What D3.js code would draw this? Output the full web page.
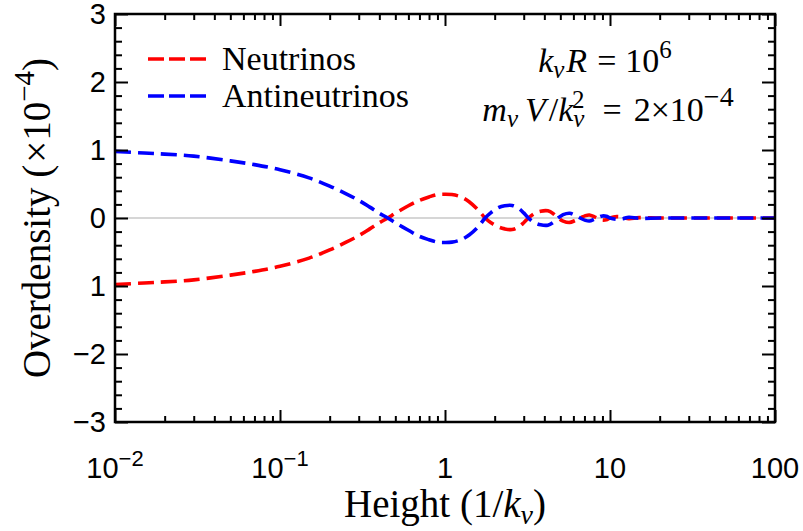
<!DOCTYPE html>
<html>
<head>
<meta charset="utf-8">
<script src="https://cdn.jsdelivr.net/npm/d3@7"></script>
<style>
  html, body { margin: 0; padding: 0; background: #fff; }
  svg { display: block; }
</style>
</head>
<body>
<svg id="chart" width="803" height="531"></svg>
<script>
// ---- data ----
const heights = [0.01, 0.015, 0.02, 0.03, 0.05, 0.07, 0.1, 0.15, 0.2, 0.25, 0.3, 0.35, 0.4, 0.45, 0.5, 0.6, 0.7, 0.8, 0.9, 1.0, 1.1, 1.25, 1.4, 1.6, 1.75, 1.9, 2.1, 2.3, 2.55, 2.8, 3.0, 3.2, 3.5, 3.8, 4.2, 4.55, 4.85, 5.2, 5.7, 6.1, 6.6, 7.1, 7.5, 8.0, 8.5, 9.0, 9.5, 10, 11, 12, 13, 15, 20, 30, 50, 100];
const neutrinos = [-0.98, -0.955, -0.94, -0.91, -0.84, -0.785, -0.71, -0.59, -0.47, -0.36, -0.26, -0.16, -0.07, 0.0, 0.07, 0.18, 0.26, 0.31, 0.345, 0.35, 0.345, 0.31, 0.24, 0.11, 0.0, -0.07, -0.13, -0.16, -0.17, -0.13, -0.07, 0.0, 0.07, 0.10, 0.105, 0.06, 0.0, -0.045, -0.065, -0.04, 0.0, 0.035, 0.045, 0.02, -0.01, -0.03, -0.025, 0.0, 0.02, 0.01, -0.01, 0.005, 0.0, 0.0, 0.0, 0.0];
const antineutrinos = [0.98, 0.955, 0.94, 0.91, 0.84, 0.785, 0.71, 0.59, 0.47, 0.36, 0.26, 0.16, 0.07, 0.0, -0.07, -0.18, -0.27, -0.32, -0.355, -0.36, -0.355, -0.32, -0.25, -0.12, 0.0, 0.08, 0.15, 0.18, 0.185, 0.14, 0.075, 0.0, -0.07, -0.10, -0.105, -0.06, 0.0, 0.05, 0.07, 0.045, 0.0, -0.035, -0.045, -0.02, 0.01, 0.03, 0.025, 0.0, -0.02, -0.01, 0.01, -0.005, 0.0, 0.0, 0.0, 0.0];
const xMajorTicks = [0.01, 0.1, 1, 10, 100];
const xTickLabels = [["10", "\u22122"], ["10", "\u22121"], ["1", ""], ["10", ""], ["100", ""]];
const yMajorTicks = [-3, -2, -1, 0, 1, 2, 3];
const yTickLabels = ["\u22123", "\u22122", "1", "0", "1", "2", "3"];
const seriesNames = ["Neutrinos", "Antineutrinos"];
const seriesColors = ["#ff0000", "#0000ff"];

// ---- layout ----
const W = 803, H = 531;
const L = 115, R = 775, T = 14, B = 422;
const svg = d3.select("#chart");
const x = d3.scaleLog().domain([0.01, 100]).range([L, R]);
const y = d3.scaleLinear().domain([-3, 3]).range([B, T]);

const sans = "'Liberation Sans', Arial, Helvetica, sans-serif";
const serif = "'Liberation Serif', 'Times New Roman', Times, serif";

// minor ticks
const xMinor = [];
for (let d = -2; d < 2; d++) for (let m = 2; m <= 9; m++) xMinor.push(m * Math.pow(10, d));
const yMinor = d3.range(-3, 3.0001, 0.2).map(v => +v.toFixed(2)).filter(v => Math.abs(v - Math.round(v)) > 1e-6);

// zero line
svg.append("line")
  .attr("x1", L).attr("x2", R).attr("y1", y(0)).attr("y2", y(0))
  .attr("stroke", "#d6d6d6").attr("stroke-width", 2);

// series
const line = d3.line()
  .x((d, i) => x(heights[i]))
  .y(d => y(d))
  .curve(d3.curveCatmullRom.alpha(0.5));

const plot = svg.append("g");
[neutrinos, antineutrinos].forEach((vals, k) => {
  plot.append("path")
    .attr("d", line(vals))
    .attr("fill", "none")
    .attr("stroke", seriesColors[k])
    .attr("stroke-width", 3.6)
    .attr("stroke-dasharray", "16,7");
});

// axes (ticks inward on all four sides)
function addAxis(axisFn, scale, transform, vals, size) {
  svg.append("g")
    .attr("transform", transform)
    .call(axisFn(scale).tickValues(vals).tickSize(size).tickFormat(""))
    .call(g => g.select(".domain").remove())
    .call(g => g.selectAll(".tick line").attr("stroke", "#000").attr("stroke-width", 2));
}
addAxis(d3.axisBottom, x, `translate(0,${B})`, xMajorTicks, -12);
addAxis(d3.axisBottom, x, `translate(0,${B})`, xMinor, -6);
addAxis(d3.axisTop, x, `translate(0,${T})`, xMajorTicks, -12);
addAxis(d3.axisTop, x, `translate(0,${T})`, xMinor, -6);
addAxis(d3.axisLeft, y, `translate(${L},0)`, yMajorTicks, -13);
addAxis(d3.axisLeft, y, `translate(${L},0)`, yMinor, -7);
addAxis(d3.axisRight, y, `translate(${R},0)`, yMajorTicks, -13);
addAxis(d3.axisRight, y, `translate(${R},0)`, yMinor, -7);

// frame
svg.append("rect")
  .attr("x", L).attr("y", T).attr("width", R - L).attr("height", B - T)
  .attr("fill", "none").attr("stroke", "#000").attr("stroke-width", 2.5);

// y tick labels
svg.append("g").selectAll("text").data(yMajorTicks).join("text")
  .attr("x", L - 9).attr("y", d => y(d)).attr("dy", "0.36em")
  .attr("text-anchor", "end")
  .attr("font-family", sans).attr("font-size", 29)
  .text((d, i) => yTickLabels[i]);

// x tick labels
const xl = svg.append("g").selectAll("text").data(xMajorTicks).join("text")
  .attr("x", d => x(d)).attr("y", 478)
  .attr("text-anchor", "middle")
  .attr("font-family", sans).attr("font-size", 29);
xl.each(function(d, i) {
  const t = d3.select(this);
  t.append("tspan").text(xTickLabels[i][0]);
  if (xTickLabels[i][1]) {
    t.append("tspan").attr("font-size", 22).attr("dy", -12).text(xTickLabels[i][1]);
  }
});

// axis titles
const xt = svg.append("text")
  .attr("x", (L + R) / 2).attr("y", 517)
  .attr("text-anchor", "middle")
  .attr("font-family", serif).attr("font-size", 39);
xt.append("tspan").text("Height (1/");
xt.append("tspan").attr("font-style", "italic").text("k");
xt.append("tspan").attr("font-style", "italic").attr("font-size", 28).attr("dy", 7).text("\u03BD");
xt.append("tspan").attr("dy", -7).text(")");

const yt = svg.append("text")
  .attr("transform", `translate(50,${(T + B) / 2}) rotate(-90)`)
  .attr("text-anchor", "middle")
  .attr("font-family", serif).attr("font-size", 39);
yt.append("tspan").text("Overdensity (");
yt.append("tspan").attr("dx", 2).text("\u00D710");
yt.append("tspan").attr("font-size", 29).attr("dy", -16).text("\u22124");
yt.append("tspan").attr("dy", 16).text(")");

// legend
const leg = svg.append("g");
seriesNames.forEach((name, k) => {
  const ly = 59 + k * 37;
  leg.append("line")
    .attr("x1", 148).attr("x2", 206).attr("y1", ly).attr("y2", ly)
    .attr("stroke", seriesColors[k]).attr("stroke-width", 3.6)
    .attr("stroke-dasharray", "16,5");
  leg.append("text")
    .attr("x", 222).attr("y", ly + 11)
    .attr("font-family", serif).attr("font-size", 34)
    .text(name);
});

// annotation
const a1 = svg.append("text")
  .attr("x", 605).attr("y", 72).attr("text-anchor", "middle")
  .attr("font-family", serif).attr("font-size", 34);
a1.append("tspan").attr("font-style", "italic").text("k");
a1.append("tspan").attr("font-style", "italic").attr("font-size", 25).attr("dy", 6).text("\u03BD");
a1.append("tspan").attr("font-style", "italic").attr("dy", -6).attr("dx", 2).text("R");
a1.append("tspan").attr("dx", 10).text("=");
a1.append("tspan").attr("dx", 9).text("10");
a1.append("tspan").attr("font-size", 25).attr("dy", -14).text("6");

const a2 = svg.append("text")
  .attr("x", 608).attr("y", 121).attr("text-anchor", "middle")
  .attr("font-family", serif).attr("font-size", 34);
a2.append("tspan").attr("font-style", "italic").text("m");
a2.append("tspan").attr("font-style", "italic").attr("font-size", 25).attr("dy", 6).text("\u03BD");
a2.append("tspan").attr("font-style", "italic").attr("dy", -6).attr("dx", 7).text("V");
a2.append("tspan").attr("dx", 3).text("/");
a2.append("tspan").attr("font-style", "italic").text("k");
a2.append("tspan").attr("font-style", "italic").attr("font-size", 25).attr("dy", 6).text("\u03BD");
a2.append("tspan").attr("font-size", 25).attr("dx", "-0.5em").attr("dy", -19).text("2");
a2.append("tspan").attr("dy", 13).attr("dx", 18).text("=");
a2.append("tspan").attr("dx", 12).text("2\u00D710");
a2.append("tspan").attr("font-size", 28).attr("dy", -15).text("\u22124");
</script>
</body>
</html>
